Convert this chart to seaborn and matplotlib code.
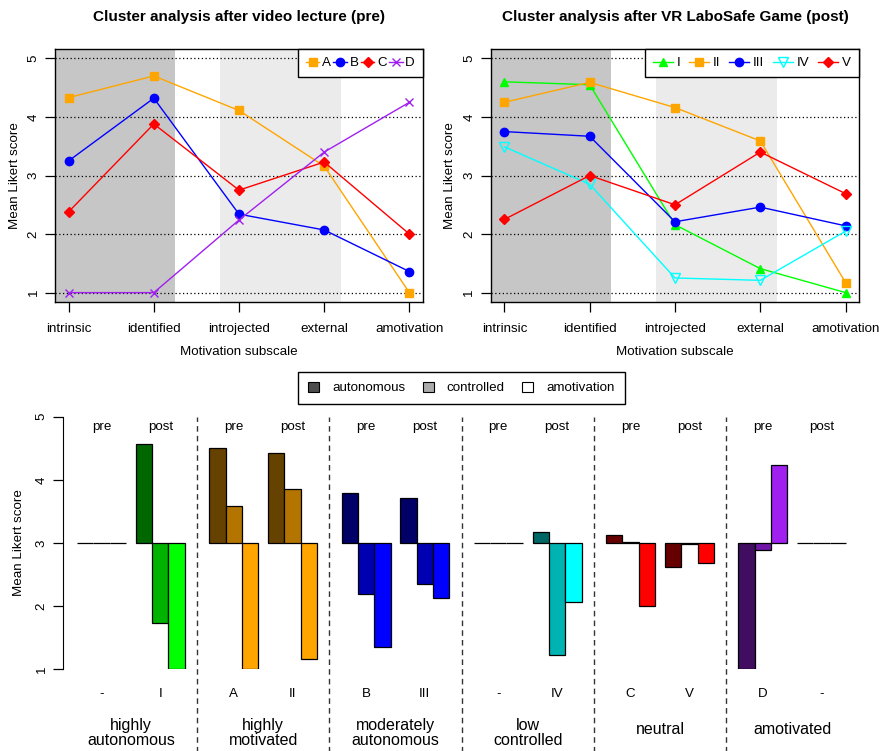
import matplotlib
matplotlib.use('Agg')
import matplotlib.pyplot as plt
from matplotlib.patches import Patch
import matplotlib.colors as mcolors
import seaborn as sns

# motivation subscales (top panels)
subscales = ['intrinsic', 'identified', 'introjected', 'external', 'amotivation']
subscale_pos = [1, 2, 3, 4, 5]

# pre clusters (video lecture)
pre_names = ['A', 'B', 'C', 'D']
pre_A = [4.33, 4.70, 4.11, 3.16, 1.00]
pre_B = [3.25, 4.32, 2.34, 2.07, 1.36]
pre_C = [2.38, 3.88, 2.75, 3.23, 2.00]
pre_D = [1.00, 1.00, 2.24, 3.40, 4.25]

# post clusters (VR LaboSafe game)
post_names = ['I', 'II', 'III', 'IV', 'V']
post_I = [4.60, 4.55, 2.16, 1.41, 1.00]
post_II = [4.25, 4.59, 4.16, 3.59, 1.17]
post_III = [3.75, 3.67, 2.21, 2.46, 2.14]
post_IV = [3.49, 2.85, 1.25, 1.21, 2.05]
post_V = [2.25, 3.00, 2.50, 3.40, 2.69]

# bottom panel: cluster profiles per group (autonomous / controlled / amotivation)
groups = ['highly\nautonomous', 'highly\nmotivated', 'moderately\nautonomous', 'low\ncontrolled', 'neutral', 'amotivated']
pre_labels = ['-', 'A', 'B', '-', 'C', 'D']
post_labels = ['I', 'II', 'III', 'IV', 'V', '-']
pre_auto = [3.00, 4.51, 3.79, 3.00, 3.13, 1.00]
pre_ctrl = [3.00, 3.58, 2.19, 3.00, 3.02, 2.89]
pre_amot = [3.00, 1.00, 1.35, 3.00, 2.00, 4.24]
post_auto = [4.56, 4.42, 3.71, 3.17, 2.62, 3.00]
post_ctrl = [1.73, 3.85, 2.35, 1.22, 2.98, 3.00]
post_amot = [1.00, 1.16, 2.13, 2.06, 2.69, 3.00]
group_colors = ['#00FF00', '#FFA500', '#0000FF', '#00FFFF', '#FF0000', '#A020F0']
legend_labels = ['autonomous', 'controlled', 'amotivation']

plt.rcParams['font.family'] = ['Liberation Sans', 'DejaVu Sans']
FS = 9.6

W, H = 885, 751
fig = plt.figure(figsize=(W / 100, H / 100), dpi=100)


def ax_at(x0, y0, x1, y1):
    return fig.add_axes([x0 / W, 1 - y1 / H, (x1 - x0) / W, (y1 - y0) / H])


def darken(c, f):
    r, g, b = mcolors.to_rgb(c)
    return (r * f, g * f, b * f)


def line_panel(ax, series, names, styles, title, ncol, lkw):
    # shaded regions: autonomous (dark) and controlled (light)
    ax.axvspan(0.5, 2.25, color='#C6C6C6', lw=0, zorder=0)
    ax.axvspan(2.78, 4.2, color='#EBEBEB', lw=0, zorder=0)
    for yv in [1, 2, 3, 4, 5]:
        ax.axhline(yv, color='black', lw=0.9, ls=(0, (1, 2)), zorder=1)
    for vals, name, (col, mk, ms, mfc) in zip(series, names, styles):
        sns.lineplot(x=subscale_pos, y=vals, ax=ax, color=col, marker=mk, markersize=ms,
                     markerfacecolor=mfc, markeredgecolor=col, markeredgewidth=1,
                     linewidth=1, label=name, sort=False, zorder=3)
    ax.set_xlim(0.84, 5.16)
    ax.set_ylim(0.84, 5.16)
    ax.set_xticks(subscale_pos)
    ax.set_xticklabels(subscales, fontsize=FS)
    ax.set_yticks([1, 2, 3, 4, 5])
    ax.set_yticklabels(['1', '2', '3', '4', '5'], fontsize=FS, rotation=90, va='center')
    ax.tick_params(length=7, width=0.9, pad=8, color='black')
    ax.tick_params(axis='y', pad=4)
    ax.set_xlabel('Motivation subscale', fontsize=FS, labelpad=8)
    ax.set_ylabel('Mean Likert score', fontsize=FS, labelpad=5)
    for sp in ax.spines.values():
        sp.set_color('black')
        sp.set_linewidth(1)
    ax.set_title(title, fontsize=11, fontweight='bold', pad=20)
    leg = ax.legend(loc='upper right', ncol=ncol, fontsize=FS, frameon=True, fancybox=False,
                    edgecolor='black', framealpha=1, borderaxespad=0, borderpad=0.6, **lkw)
    leg.get_frame().set_linewidth(1)


ax1 = ax_at(55, 49, 423, 302)
line_panel(ax1, [pre_A, pre_B, pre_C, pre_D], pre_names,
           [('#FFA500', 's', 6, '#FFA500'), ('#0000FF', 'o', 6, '#0000FF'),
            ('#FF0000', 'D', 5, '#FF0000'), ('#A020F0', 'x', 6, '#A020F0')],
           'Cluster analysis after video lecture (pre)', 4,
           dict(handlelength=1.0, handletextpad=0.2, columnspacing=0.2))

ax2 = ax_at(490.7, 49, 859.3, 302)
line_panel(ax2, [post_I, post_II, post_III, post_IV, post_V], post_names,
           [('#00FF00', '^', 6, '#00FF00'), ('#FFA500', 's', 6, '#FFA500'),
            ('#0000FF', 'o', 6, '#0000FF'), ('#00FFFF', 'v', 7, 'none'),
            ('#FF0000', 'D', 5, '#FF0000')],
           'Cluster analysis after VR LaboSafe Game (post)', 5,
           dict(handlelength=1.5, handletextpad=0.3, columnspacing=0.65))

# bottom panel
ax3 = ax_at(63, 416.7, 862, 669.3)
period = 8.1
for i, grp in enumerate(groups):
    s = i * period
    base = group_colors[i]
    cols = [darken(base, 0.4), darken(base, 0.7), mcolors.to_rgb(base)]
    pre_vals = [pre_auto[i], pre_ctrl[i], pre_amot[i]]
    post_vals = [post_auto[i], post_ctrl[i], post_amot[i]]
    for k in range(3):
        ax3.bar(s + k, pre_vals[k] - 3, bottom=3, width=1, align='edge', color=cols[k],
                edgecolor='black', linewidth=0.9)
        ax3.bar(s + 3.6 + k, post_vals[k] - 3, bottom=3, width=1, align='edge', color=cols[k],
                edgecolor='black', linewidth=0.9)
    ax3.text(s + 1.5, 4.84, 'pre', ha='center', va='center', fontsize=FS)
    ax3.text(s + 5.1, 4.84, 'post', ha='center', va='center', fontsize=FS)
    ax3.text(s + 1.5, 0.61, pre_labels[i], ha='center', va='center', fontsize=FS)
    ax3.text(s + 5.1, 0.61, post_labels[i], ha='center', va='center', fontsize=FS)
    gy = -0.01 if '\n' in grp else 0.04
    ax3.text(s + 3.3, gy, grp, ha='center', va='center', fontsize=11.5, linespacing=1.05)
    if i < len(groups) - 1:
        ax3.axvline(s + 7.35, ymin=-0.33, ymax=1.0, color='#333333', lw=1,
                    ls=(0, (4, 3)), clip_on=False)

ax3.set_xlim(-0.857, 48.07)
ax3.set_ylim(1, 5)
ax3.set_xticks([])
ax3.set_yticks([1, 2, 3, 4, 5])
ax3.set_yticklabels(['1', '2', '3', '4', '5'], fontsize=FS, rotation=90, va='center')
ax3.tick_params(axis='y', length=7, width=0.9, pad=4, color='black')
for sp in ['top', 'right', 'bottom']:
    ax3.spines[sp].set_visible(False)
ax3.spines['left'].set_color('black')
ax3.set_ylabel('Mean Likert score', fontsize=FS, labelpad=8)

handles = [Patch(facecolor=c, edgecolor='black', linewidth=0.8)
           for c in ['#4D4D4D', '#ABABAB', 'white']]
leg = fig.legend(handles=handles, labels=legend_labels, loc='center',
                 bbox_to_anchor=(461.5 / W, 1 - 388 / H), ncol=3, fontsize=FS,
                 fancybox=False, edgecolor='black', framealpha=1, handlelength=0.8,
                 handleheight=0.8, handletextpad=1.0, columnspacing=1.3, borderpad=0.75)
leg.get_frame().set_linewidth(1)

fig.savefig('out.png', dpi=100)
